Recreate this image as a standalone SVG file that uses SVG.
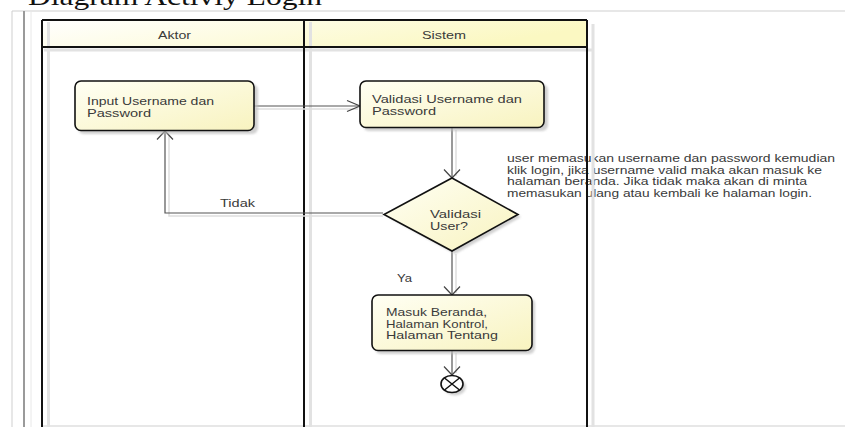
<svg xmlns="http://www.w3.org/2000/svg" width="845" height="427" viewBox="0 0 845 427">
<defs>
<linearGradient id="hdr" x1="0" y1="0" x2="1" y2="0.3">
<stop offset="0" stop-color="#ffffff"/>
<stop offset="1" stop-color="#fbf8c2"/>
</linearGradient>
<linearGradient id="nd" x1="0" y1="0" x2="1" y2="1">
<stop offset="0" stop-color="#fffff4"/>
<stop offset="1" stop-color="#f8f3bf"/>
</linearGradient>
<filter id="blur" x="-10%" y="-10%" width="130%" height="130%">
<feGaussianBlur stdDeviation="1.2"/>
</filter>
</defs>
<style>
text{font-family:"Liberation Sans",Arial,sans-serif;font-size:11px;fill:#3a3a3a}
.title{font-family:"Liberation Serif","Times New Roman",serif;font-size:26px;fill:#111}
.frame{stroke:#cfcfcf;stroke-width:1;fill:none}
.lane{stroke:#111;stroke-width:2;fill:none}
.lsh{stroke:#e2e2e2;stroke-width:3;fill:none}
.node{fill:url(#nd);stroke:#111;stroke-width:1.6}
.sh{fill:#bdbdbd;opacity:0.7;filter:url(#blur)}
.c{stroke:#555;stroke-width:1.2;fill:none}
.cs{stroke:#dedede;stroke-width:1.5;fill:none}
.ah{stroke:#444;stroke-width:1.2;fill:none}
</style>

<text class="title" x="28" y="4.5" textLength="294" lengthAdjust="spacingAndGlyphs">Diagram Activiy Login</text>

<g id="frame">
<line class="frame" x1="12" y1="11" x2="845" y2="11"/>
<line class="frame" x1="12" y1="11" x2="12" y2="427"/>
<line x1="24" y1="11" x2="24" y2="427" stroke="#9a9a9a" stroke-width="2"/>
<line x1="31" y1="11" x2="31" y2="427" stroke="#e8e8e8" stroke-width="1"/>
<line class="frame" x1="42" y1="426" x2="845" y2="426"/>
</g>

<g id="note">
<text x="507" y="162" textLength="328" lengthAdjust="spacingAndGlyphs">user memasukan username dan password kemudian</text>
<text x="507" y="173.5" textLength="315" lengthAdjust="spacingAndGlyphs">klik login, jika username valid maka akan masuk ke</text>
<text x="507" y="185" textLength="300" lengthAdjust="spacingAndGlyphs">halaman beranda. Jika tidak maka akan di minta</text>
<text x="507" y="196.5" textLength="305" lengthAdjust="spacingAndGlyphs">memasukan ulang atau kembali ke halaman login.</text>
</g>

<g id="lanes">
<rect x="42" y="20" width="545" height="27" fill="url(#hdr)"/>
<line class="lsh" x1="48.5" y1="22" x2="48.5" y2="427"/>
<line class="lsh" x1="310.5" y1="22" x2="310.5" y2="427"/>
<line class="lsh" x1="593" y1="24" x2="593" y2="427"/>
<line class="lsh" x1="44" y1="50" x2="593" y2="50"/>
<line class="lane" x1="42" y1="20" x2="587" y2="20"/>
<line class="lane" x1="42" y1="47" x2="587" y2="47"/>
<line class="lane" x1="42" y1="20" x2="42" y2="427"/>
<line class="lane" x1="304" y1="20" x2="304" y2="427"/>
<line class="lane" x1="587" y1="20" x2="587" y2="427"/>
<g id="lane-aktor"><text x="158" y="39" textLength="33" lengthAdjust="spacingAndGlyphs">Aktor</text></g>
<g id="lane-sistem"><text x="422" y="39" textLength="44" lengthAdjust="spacingAndGlyphs">Sistem</text></g>
</g>

<g id="connectors">
<line class="cs" x1="256" y1="109" x2="358" y2="109"/>
<line class="cs" x1="456" y1="130" x2="456" y2="176"/>
<path class="cs" d="M383,216 H169 V135"/>
<line class="cs" x1="456" y1="254" x2="456" y2="293"/>
<line class="cs" x1="456" y1="353" x2="456" y2="373"/>

<line class="c" x1="254" y1="106" x2="360" y2="106"/>
<path class="ah" d="M347,100.5 L360,106 L347,111.5"/>
<line class="c" x1="452" y1="128" x2="452" y2="178"/>
<path class="ah" d="M444,169.5 L452,178 L460,169.5"/>
<path class="c" d="M383,213 H165 V131"/>
<path class="ah" d="M157,139.5 L165,131 L173,139.5"/>
<line class="c" x1="452" y1="251" x2="452" y2="295"/>
<path class="ah" d="M444,286.5 L452,295 L460,286.5"/>
<line class="c" x1="452" y1="351" x2="452" y2="375"/>
<path class="ah" d="M444,366.5 L452,375 L460,366.5"/>
<text x="220" y="206.5" textLength="35" lengthAdjust="spacingAndGlyphs">Tidak</text>
<text x="397" y="282" textLength="15" lengthAdjust="spacingAndGlyphs">Ya</text>
</g>

<g id="node-input">
<rect class="sh" x="78" y="84" width="180" height="50" rx="6"/>
<rect class="node" x="75" y="81" width="179" height="49.5" rx="6"/>
<text x="87" y="105" textLength="127" lengthAdjust="spacingAndGlyphs">Input Username dan</text>
<text x="87" y="116.5" textLength="64" lengthAdjust="spacingAndGlyphs">Password</text>
</g>

<g id="node-validasi">
<rect class="sh" x="363" y="84" width="185" height="47" rx="6"/>
<rect class="node" x="360" y="81" width="184" height="46.5" rx="6"/>
<text x="372" y="103" textLength="150" lengthAdjust="spacingAndGlyphs">Validasi Username dan</text>
<text x="372" y="114.5" textLength="64" lengthAdjust="spacingAndGlyphs">Password</text>
</g>

<g id="decision">
<path class="sh" d="M455,181 L521,217 L455,254 L388,217 Z"/>
<path class="node" d="M452,178 L518,214.5 L452,251 L384,214.5 Z"/>
<text x="430" y="218" textLength="51" lengthAdjust="spacingAndGlyphs">Validasi</text>
<text x="430" y="230" textLength="38" lengthAdjust="spacingAndGlyphs">User?</text>
</g>

<g id="node-beranda">
<rect class="sh" x="375" y="298" width="160" height="56" rx="6"/>
<rect class="node" x="372" y="295" width="160" height="55.5" rx="6"/>
<text x="386" y="316" textLength="101" lengthAdjust="spacingAndGlyphs">Masuk Beranda,</text>
<text x="386" y="327.5" textLength="102" lengthAdjust="spacingAndGlyphs">Halaman Kontrol,</text>
<text x="386" y="339" textLength="112" lengthAdjust="spacingAndGlyphs">Halaman Tentang</text>
</g>

<g id="end">
<ellipse class="sh" cx="455" cy="387" rx="11" ry="8.5"/>
<ellipse cx="452" cy="384" rx="11" ry="8.5" fill="#fff" stroke="#111" stroke-width="1.6"/>
<path d="M444.5,378 L459.5,390 M459.5,378 L444.5,390" stroke="#111" stroke-width="1.5"/>
</g>
</svg>
